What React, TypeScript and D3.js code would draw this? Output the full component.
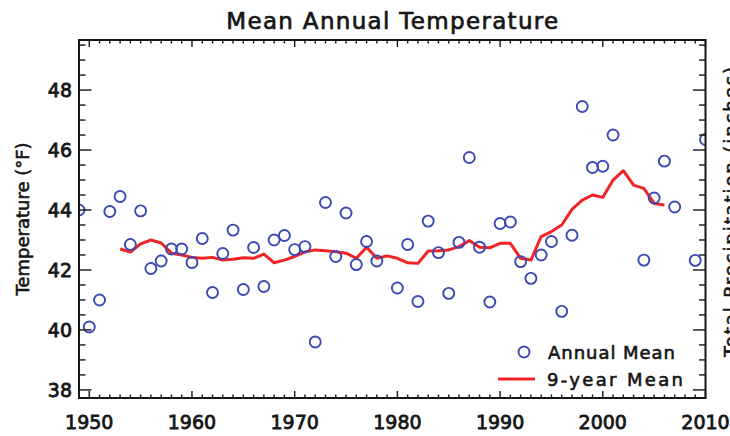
import React from "react";
import * as d3 from "d3";

const years: number[] = d3.range(1949, 2011);
const annualMean: (number | null)[] = [
  44.0, 40.1, 41.0, 43.95, 44.45, 42.85, 43.97, 42.05, 42.3, 42.7,
  42.7, 42.25, 43.05, 41.25, 42.55, 43.33, 41.35, 42.75, 41.45, 43.0,
  43.15, 42.68, 42.78, 39.6, 44.25, 42.45, 43.9, 42.18, 42.95, 42.3,
  null, 41.4, 42.85, 40.95, 43.63, 42.58, 41.22, 42.92, 45.75, 42.76,
  40.93, 43.55, 43.6, 42.28, 41.72, 42.5, 42.95, 40.62, 43.16, 47.45,
  45.42, 45.46, 46.5, null, null, 42.33, 44.4, 45.63, 44.1, null,
  42.32, 46.35,
];
const meanYears: number[] = d3.range(1953, 2007);
const nineYearMean: number[] = [
  42.7, 42.6, 42.87, 43.0, 42.9, 42.56, 42.5, 42.42, 42.39, 42.42,
  42.33, 42.36, 42.41, 42.39, 42.53, 42.24, 42.33, 42.45, 42.6, 42.67,
  42.64, 42.61, 42.56, 42.39, 42.76, 42.39, 42.47, 42.39, 42.24, 42.22,
  42.63, 42.64, 42.67, 42.78, 42.98, 42.76, 42.74, 42.89, 42.89, 42.39,
  42.33, 43.11, 43.28, 43.5, 44.02, 44.33, 44.5, 44.42, 45.0, 45.31,
  44.83, 44.72, 44.22, 44.17,
];
const xMajorTicks: number[] = [1950, 1960, 1970, 1980, 1990, 2000, 2010];
const yMajorTicks: number[] = [38, 40, 42, 44, 46, 48];
const xDomain: [number, number] = [1949, 2010];
const yDomain: [number, number] = [37.73, 49.67];
const titleText = "Mean Annual Temperature";
const yTitle = "Temperature (\u00B0F)";
const y2Title = "Total Precipitation (inches)";
const legendLabels = ["Annual Mean", "9-year Mean"];

const W = 730, H = 436;
const L = 79, R = 705.5, T = 40, B = 398;
const FONT = "'DejaVu Sans', sans-serif";
const BLUE = "#3c48b4";
const RED = "#f02424";
const INK = "#151515";

export default function App() {
  const x = d3.scaleLinear().domain(xDomain).range([L, R]);
  const y = d3.scaleLinear().domain(yDomain).range([B, T]);

  const xMinor = d3.range(xDomain[0], xDomain[1] + 0.5, 1).filter((v) => !xMajorTicks.includes(v));
  const yMinor = d3.range(38, 49.6, 0.5).filter((v) => !yMajorTicks.includes(v) && v <= yDomain[1]);

  const xMajLen = 7, xMinLen = 3.5, yMajLen = 12.5, yMinLen = 6.5;

  const line = d3
    .line<number>()
    .x((_, i) => x(meanYears[i]))
    .y((d) => y(d));

  const pts = years
    .map((yr, i) => ({ yr, v: annualMean[i] }))
    .filter((p) => p.v !== null) as { yr: number; v: number }[];

  return (
    <svg width={W} height={H} style={{ position: "absolute", left: 0, top: 0, background: "#fff" }}>
      <defs>
        <clipPath id="plotclip">
          <rect x={L} y={T} width={R - L} height={B - T} />
        </clipPath>
      </defs>
      <rect x={0} y={0} width={W} height={H} fill="#fff" />

      {/* title */}
      <text x={(L + R) / 2} y={29} textAnchor="middle" fontFamily={FONT} fontSize={23}
        fill={INK} stroke={INK} strokeWidth={0.7} textLength={332} lengthAdjust="spacing">
        {titleText}
      </text>

      {/* data */}
      <g clipPath="url(#plotclip)">
        <path d={line(nineYearMean) || ""} fill="none" stroke={RED} strokeWidth={3} strokeLinejoin="round" />
        {pts.map((p) => (
          <circle key={p.yr} cx={x(p.yr)} cy={y(p.v)} r={5.5} fill="none" stroke={BLUE} strokeWidth={1.9} />
        ))}
      </g>

      {/* ticks */}
      <g stroke={INK} strokeWidth={1.4}>
        {xMajorTicks.map((v) => (
          <g key={"xm" + v}>
            <line x1={x(v)} x2={x(v)} y1={B} y2={B - xMajLen} />
            <line x1={x(v)} x2={x(v)} y1={T} y2={T + xMajLen} />
          </g>
        ))}
        {xMinor.map((v) => (
          <g key={"xn" + v}>
            <line x1={x(v)} x2={x(v)} y1={B} y2={B - xMinLen} />
            <line x1={x(v)} x2={x(v)} y1={T} y2={T + xMinLen} />
          </g>
        ))}
        {yMajorTicks.map((v) => (
          <g key={"ym" + v}>
            <line x1={L} x2={L + yMajLen} y1={y(v)} y2={y(v)} />
            <line x1={R} x2={R - yMajLen} y1={y(v)} y2={y(v)} />
          </g>
        ))}
        {yMinor.map((v) => (
          <g key={"yn" + v}>
            <line x1={L} x2={L + yMinLen} y1={y(v)} y2={y(v)} />
            <line x1={R} x2={R - yMinLen} y1={y(v)} y2={y(v)} />
          </g>
        ))}
      </g>

      {/* frame */}
      <rect x={L} y={T} width={R - L} height={B - T} fill="none" stroke={INK} strokeWidth={2} />

      {/* tick labels */}
      <g fontFamily={FONT} fontSize={19} fill={INK} stroke={INK} strokeWidth={0.8}>
        {xMajorTicks.map((v) => (
          <text key={"xl" + v} x={x(v)} y={429} textAnchor="middle">{v}</text>
        ))}
        {yMajorTicks.map((v) => (
          <text key={"yl" + v} x={L - 7} y={y(v) + 7} textAnchor="end">{v}</text>
        ))}
      </g>

      {/* axis titles */}
      <text transform={`translate(29, ${(T + B) / 2}) rotate(-90)`} textAnchor="middle"
        fontFamily={FONT} fontSize={18} fill={INK} stroke={INK} strokeWidth={0.6}>
        {yTitle}
      </text>
      <text transform={`translate(737, 212) rotate(-90)`} textAnchor="middle"
        fontFamily={FONT} fontSize={18} fill={INK} stroke={INK} strokeWidth={0.6}
        textLength={290} lengthAdjust="spacing">
        {y2Title}
      </text>

      {/* legend */}
      <circle cx={524} cy={352} r={5.5} fill="none" stroke={BLUE} strokeWidth={1.9} />
      <text x={548} y={359} fontFamily={FONT} fontSize={18} fill={INK} stroke={INK} strokeWidth={0.6}
        textLength={127} lengthAdjust="spacing">{legendLabels[0]}</text>
      <line x1={498} x2={535} y1={379} y2={379} stroke={RED} strokeWidth={3} />
      <text x={547} y={386} fontFamily={FONT} fontSize={18} fill={INK} stroke={INK} strokeWidth={0.6}
        textLength={136} lengthAdjust="spacing">{legendLabels[1]}</text>
    </svg>
  );
}
